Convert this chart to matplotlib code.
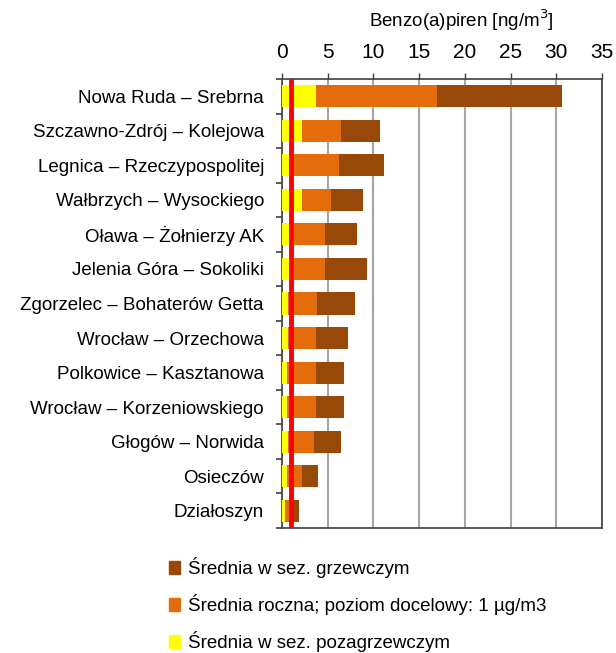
import matplotlib
matplotlib.use("Agg")
import matplotlib.pyplot as plt
from matplotlib.patches import Patch

stations = ["Nowa Ruda – Srebrna", "Szczawno-Zdrój – Kolejowa", "Legnica – Rzeczypospolitej",
            "Wałbrzych – Wysockiego", "Oława – Żołnierzy AK", "Jelenia Góra – Sokoliki",
            "Zgorzelec – Bohaterów Getta", "Wrocław – Orzechowa", "Polkowice – Kasztanowa",
            "Wrocław – Korzeniowskiego", "Głogów – Norwida", "Osieczów", "Działoszyn"]
heating = [30.6, 10.7, 11.2, 8.9, 8.2, 9.3, 8.0, 7.2, 6.8, 6.8, 6.5, 3.9, 1.9]
annual = [17.0, 6.4, 6.2, 5.4, 4.7, 4.7, 3.8, 3.7, 3.7, 3.7, 3.5, 2.2, 1.2]
nonheating = [3.7, 2.2, 0.8, 2.2, 1.3, 1.3, 0.7, 0.7, 0.5, 0.5, 0.7, 0.5, 0.3]
target = 1.0
xticks = [0, 5, 10, 15, 20, 25, 30, 35]
xlabel = "Benzo(a)piren [ng/m$^3$]"
legend_labels = ["Średnia w sez. grzewczym", "Średnia roczna; poziom docelowy: 1 µg/m3",
                 "Średnia w sez. pozagrzewczym"]

plt.rcParams["font.family"] = ["Liberation Sans", "DejaVu Sans"]

c_brown, c_orange, c_yellow = "#984807", "#E46C0A", "#FFFF00"

fig = plt.figure(figsize=(6.16, 6.53), dpi=100)
ax = fig.add_axes([282/616, 1 - 528/653, 320/616, (528-79)/653])

y = list(range(len(stations)))
h = 0.64
ax.barh(y, heating, height=h, color=c_brown, zorder=3)
ax.barh(y, annual, height=h, color=c_orange, zorder=4)
ax.barh(y, nonheating, height=h, color=c_yellow, zorder=5)
ax.axvline(target, color="#FF0000", lw=3.5, zorder=6)

ax.set_xlim(0, 35)
ax.set_ylim(len(stations) - 0.5, -0.5)
ax.xaxis.tick_top()
ax.xaxis.set_label_position("top")
ax.set_xticks(xticks)
ax.tick_params(axis="x", labelsize=15, length=4, width=1, color="#404040", pad=8)
ax.set_xlabel(xlabel, fontsize=13.5)
ax.xaxis.set_label_coords(0.56, 1.115)
ax.grid(axis="x", color="#A6A6A6", lw=1.5, zorder=0)
ax.set_axisbelow(True)

ax.set_yticks(y)
ax.set_yticklabels(stations, fontsize=13.5)
ax.tick_params(axis="y", length=0, pad=13)
ax.set_yticks([i + 0.5 for i in range(-1, len(stations))], minor=True)
ax.tick_params(axis="y", which="minor", length=4, width=1.2, color="#404040")
for s in ax.spines.values():
    s.set_color("#404040")
    s.set_linewidth(1.2)

handles = [Patch(color=c_brown), Patch(color=c_orange), Patch(color=c_yellow)]
fig.legend(handles, legend_labels, loc="upper left", bbox_to_anchor=(152/616, 1 - 540/653),
           frameon=False, fontsize=13.5, handlelength=0.6, handleheight=0.7,
           handletextpad=0.4, labelspacing=0.85)

fig.savefig("out.png", dpi=100)
